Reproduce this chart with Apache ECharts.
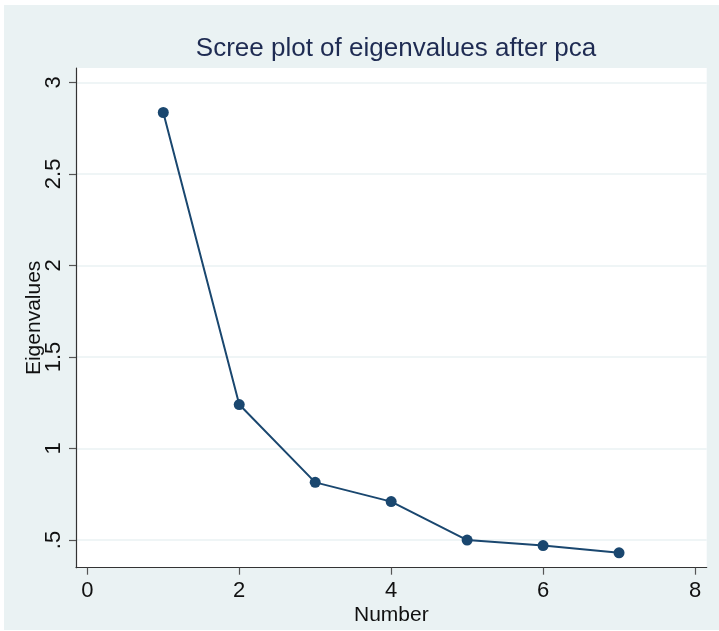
<!DOCTYPE html>
<html>
<head>
<meta charset="utf-8">
<script src="https://cdn.jsdelivr.net/npm/echarts@6/dist/echarts.min.js"></script>
<style>
html,body{margin:0;padding:0;background:#ffffff;}
#chart{width:719px;height:631px;}
</style>
</head>
<body>
<div id="chart"></div>
<script>
var componentNumbers = [1, 2, 3, 4, 5, 6, 7];
var eigenvalues = [2.835, 1.240, 0.815, 0.710, 0.500, 0.470, 0.430];
var xTickValues = [0, 2, 4, 6, 8];
var yTickValues = [0.5, 1, 1.5, 2, 2.5, 3];
var titleText = 'Scree plot of eigenvalues after pca';
var xAxisTitle = 'Number';
var yAxisTitle = 'Eigenvalues';

var points = componentNumbers.map(function (n, i) { return [n, eigenvalues[i]]; });
var font = '"Liberation Sans", Arial, sans-serif';

var chart = echarts.init(document.getElementById('chart'), null, {renderer: 'canvas'});
chart.setOption({
  backgroundColor: '#ffffff',
  animation: false,
  graphic: [{
    type: 'rect', z: -10, silent: true,
    shape: {x: 4, y: 5, width: 715, height: 625},
    style: {fill: '#eaf2f3'}
  }],
  title: {
    text: titleText,
    left: 391, top: 31, textAlign: 'center',
    textStyle: {fontFamily: font, fontSize: 26, fontWeight: 'normal', color: '#1e2b52'}
  },
  grid: {left: 76, top: 68, right: 12.3, bottom: 63.3, show: true, backgroundColor: '#ffffff', borderWidth: 0},
  xAxis: {
    type: 'value', min: -0.149, max: 8.154,
    name: xAxisTitle, nameLocation: 'middle', nameGap: 37,
    nameMoveOverlap: false,
    nameTextStyle: {fontFamily: font, fontSize: 21, color: '#111'},
    axisLine: {show: true, onZero: false, lineStyle: {color: '#333', width: 1.2}},
    axisTick: {show: true, customValues: xTickValues, length: 7, lineStyle: {color: '#555', width: 1.2}},
    axisLabel: {customValues: xTickValues, margin: 12, fontFamily: font, fontSize: 22, color: '#111'},
    splitLine: {show: false}
  },
  yAxis: {
    type: 'value', min: 0.349, max: 3.078,
    name: yAxisTitle, nameLocation: 'middle', nameGap: 31,
    nameMoveOverlap: false,
    nameTextStyle: {fontFamily: font, fontSize: 21, color: '#111'},
    axisLine: {show: true, onZero: false, lineStyle: {color: '#333', width: 1.2}},
    axisTick: {show: true, customValues: yTickValues, length: 7, lineStyle: {color: '#555', width: 1.2}},
    axisLabel: {
      customValues: yTickValues, rotate: 90, margin: 11,
      fontFamily: font, fontSize: 22, color: '#111',
      formatter: function (v) { return String(v).replace(/^0\./, '.'); }
    },
    splitLine: {show: true, lineStyle: {color: '#eaf2f3', width: 1.5}}
  },
  series: [{
    type: 'line',
    data: points,
    symbol: 'circle', symbolSize: 11,
    lineStyle: {color: '#1a476f', width: 2},
    itemStyle: {color: '#1a476f'}
  }]
});
</script>
</body>
</html>
